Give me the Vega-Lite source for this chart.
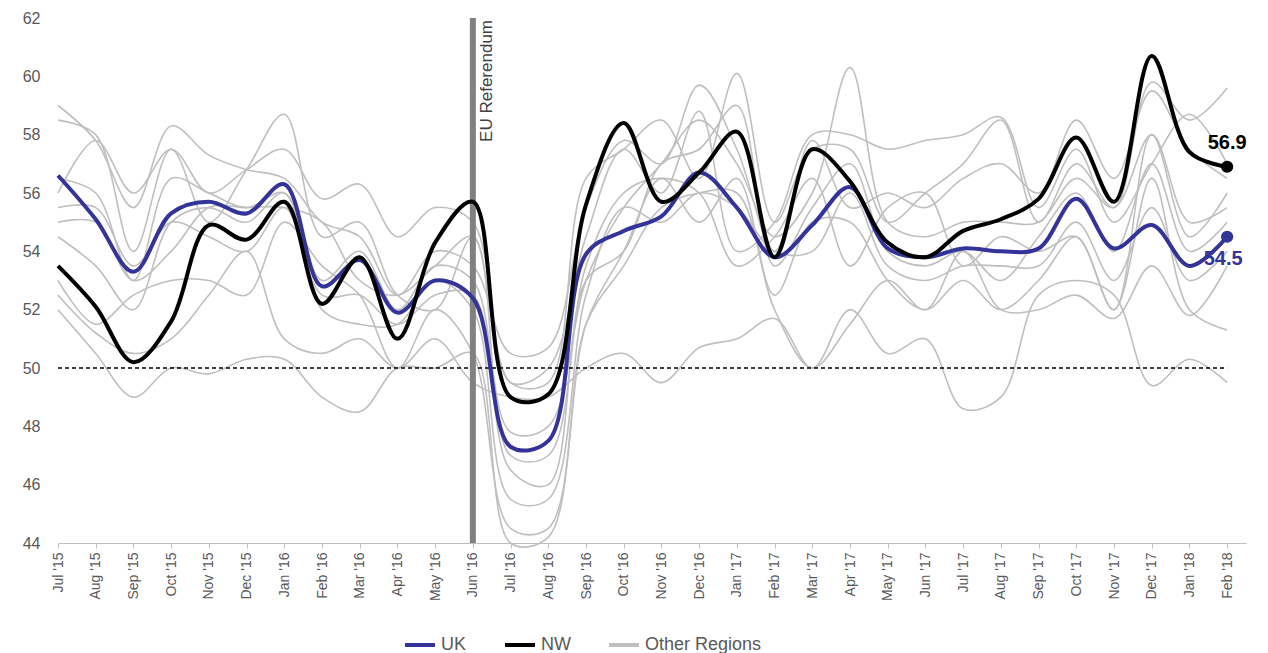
{
  "$schema": "https://vega.github.io/schema/vega-lite/v6.json",
  "width": 1268,
  "height": 653,
  "autosize": {"type": "fit", "contains": "padding"},
  "padding": {"left": 22, "top": 10, "right": 22, "bottom": 52},
  "config": {"view": {"stroke": null}, "font": "Liberation Sans"},
  "data": {
    "values": [
      {"m": 0, "UK": 56.6, "NW": 53.5, "r1": 59.0, "r2": 58.5, "r3": 56.5, "r4": 55.5, "r5": 54.5, "r6": 53.0, "r7": 52.5, "r8": 52.0, "r9": 56.0, "r10": 55.0},
      {"m": 1, "UK": 55.1, "NW": 52.1, "r1": 57.8, "r2": 58.0, "r3": 56.0, "r4": 55.5, "r5": 53.5, "r6": 51.5, "r7": 51.2, "r8": 50.5, "r9": 57.8, "r10": 55.0},
      {"m": 2, "UK": 53.3, "NW": 50.2, "r1": 55.5, "r2": 54.0, "r3": 53.0, "r4": 53.5, "r5": 52.0, "r6": 52.5, "r7": 50.5, "r8": 49.0, "r9": 56.0, "r10": 53.0},
      {"m": 3, "UK": 55.3, "NW": 51.6, "r1": 58.3, "r2": 57.5, "r3": 56.5, "r4": 55.0, "r5": 55.0, "r6": 53.0, "r7": 51.0, "r8": 50.0, "r9": 57.5, "r10": 54.0},
      {"m": 4, "UK": 55.7, "NW": 54.9, "r1": 57.3, "r2": 55.0, "r3": 56.0, "r4": 54.5, "r5": 55.5, "r6": 53.0, "r7": 52.5, "r8": 49.8, "r9": 56.0, "r10": 55.5},
      {"m": 5, "UK": 55.3, "NW": 54.4, "r1": 56.8, "r2": 56.8, "r3": 55.5, "r4": 54.0, "r5": 55.0, "r6": 52.5, "r7": 54.0, "r8": 50.3, "r9": 56.8, "r10": 55.5},
      {"m": 6, "UK": 56.3, "NW": 55.7, "r1": 56.5, "r2": 58.7, "r3": 56.0, "r4": 55.5, "r5": 56.0, "r6": 55.0, "r7": 51.0, "r8": 50.3, "r9": 57.5, "r10": 55.5},
      {"m": 7, "UK": 52.8, "NW": 52.2, "r1": 55.0, "r2": 54.5, "r3": 53.0, "r4": 52.5, "r5": 52.0, "r6": 53.5, "r7": 50.5, "r8": 49.0, "r9": 55.8, "r10": 55.0},
      {"m": 8, "UK": 53.7, "NW": 53.8, "r1": 54.5, "r2": 55.0, "r3": 54.0, "r4": 52.5, "r5": 51.5, "r6": 52.5, "r7": 51.0, "r8": 48.5, "r9": 56.3, "r10": 53.0},
      {"m": 9, "UK": 51.9, "NW": 51.0, "r1": 52.5, "r2": 52.5, "r3": 52.0, "r4": 51.5, "r5": 51.5, "r6": 50.0, "r7": 50.0, "r8": 50.0, "r9": 54.5, "r10": 52.5},
      {"m": 10, "UK": 53.0, "NW": 54.3, "r1": 54.0, "r2": 52.0, "r3": 53.5, "r4": 52.5, "r5": 53.0, "r6": 52.0, "r7": 51.0, "r8": 50.0, "r9": 55.5, "r10": 53.5},
      {"m": 11, "UK": 52.4, "NW": 55.7, "r1": 53.5, "r2": 54.5, "r3": 53.0, "r4": 52.5, "r5": 52.0, "r6": 50.5, "r7": 49.5, "r8": 50.5, "r9": 55.0, "r10": 54.5},
      {"m": 12, "UK": 47.3, "NW": 49.0, "r1": 50.5, "r2": 49.5, "r3": 47.8, "r4": 46.5, "r5": 45.5, "r6": 44.5, "r7": 49.0, "r8": 44.0, "r9": 49.5, "r10": 47.0},
      {"m": 13, "UK": 47.5, "NW": 49.1, "r1": 50.7, "r2": 49.5, "r3": 48.0, "r4": 46.0, "r5": 45.5, "r6": 44.5, "r7": 49.0, "r8": 44.2, "r9": 50.0, "r10": 47.0},
      {"m": 14, "UK": 53.9, "NW": 55.6, "r1": 55.5, "r2": 56.5, "r3": 53.0, "r4": 53.0, "r5": 52.5, "r6": 51.5, "r7": 50.0, "r8": 51.5, "r9": 54.5, "r10": 53.5},
      {"m": 15, "UK": 54.7, "NW": 58.4, "r1": 57.8, "r2": 57.5, "r3": 55.5, "r4": 54.0, "r5": 55.5, "r6": 54.0, "r7": 50.5, "r8": 53.5, "r9": 57.5, "r10": 56.0},
      {"m": 16, "UK": 55.2, "NW": 55.7, "r1": 57.0, "r2": 58.5, "r3": 57.0, "r4": 57.0, "r5": 55.0, "r6": 56.5, "r7": 49.5, "r8": 55.5, "r9": 56.0, "r10": 56.5},
      {"m": 17, "UK": 56.7, "NW": 56.7, "r1": 59.7, "r2": 56.5, "r3": 58.5, "r4": 57.5, "r5": 56.0, "r6": 55.0, "r7": 50.7, "r8": 56.0, "r9": 58.8, "r10": 56.0},
      {"m": 18, "UK": 55.5, "NW": 58.1, "r1": 57.5, "r2": 60.1, "r3": 57.0, "r4": 59.0, "r5": 55.5, "r6": 56.5, "r7": 51.0, "r8": 56.0, "r9": 54.0, "r10": 53.5},
      {"m": 19, "UK": 53.8, "NW": 53.8, "r1": 54.0, "r2": 55.0, "r3": 54.5, "r4": 53.5, "r5": 54.0, "r6": 52.5, "r7": 51.7, "r8": 52.0, "r9": 55.0, "r10": 54.5},
      {"m": 20, "UK": 54.9, "NW": 57.5, "r1": 57.8, "r2": 57.5, "r3": 56.0, "r4": 55.5, "r5": 54.0, "r6": 55.0, "r7": 50.0, "r8": 50.0, "r9": 58.0, "r10": 56.5},
      {"m": 21, "UK": 56.2, "NW": 56.4, "r1": 55.5, "r2": 57.5, "r3": 60.3, "r4": 57.0, "r5": 56.0, "r6": 55.0, "r7": 52.0, "r8": 51.5, "r9": 58.0, "r10": 53.5},
      {"m": 22, "UK": 54.1, "NW": 54.3, "r1": 56.0, "r2": 55.0, "r3": 55.0, "r4": 54.0, "r5": 53.5, "r6": 53.0, "r7": 50.5, "r8": 53.0, "r9": 57.5, "r10": 55.5},
      {"m": 23, "UK": 53.8, "NW": 53.8, "r1": 55.5, "r2": 56.0, "r3": 54.5, "r4": 53.5, "r5": 53.0, "r6": 52.0, "r7": 51.0, "r8": 52.0, "r9": 57.8, "r10": 56.0},
      {"m": 24, "UK": 54.1, "NW": 54.7, "r1": 56.5, "r2": 57.0, "r3": 55.0, "r4": 54.0, "r5": 53.5, "r6": 53.0, "r7": 48.6, "r8": 54.0, "r9": 58.0, "r10": 53.5},
      {"m": 25, "UK": 54.0, "NW": 55.1, "r1": 57.0, "r2": 58.5, "r3": 55.0, "r4": 53.0, "r5": 53.5, "r6": 52.0, "r7": 49.0, "r8": 52.0, "r9": 58.6, "r10": 54.5},
      {"m": 26, "UK": 54.1, "NW": 55.8, "r1": 56.0, "r2": 55.0, "r3": 55.0, "r4": 54.5, "r5": 53.5, "r6": 53.0, "r7": 52.5, "r8": 52.0, "r9": 55.5, "r10": 54.0},
      {"m": 27, "UK": 55.8, "NW": 57.9, "r1": 58.5, "r2": 57.0, "r3": 56.5, "r4": 56.0, "r5": 55.0, "r6": 54.5, "r7": 53.0, "r8": 52.5, "r9": 57.5, "r10": 54.5},
      {"m": 28, "UK": 54.1, "NW": 55.7, "r1": 56.5, "r2": 55.5, "r3": 55.5, "r4": 54.0, "r5": 53.0, "r6": 52.0, "r7": 52.5, "r8": 51.7, "r9": 55.0, "r10": 52.0},
      {"m": 29, "UK": 54.9, "NW": 60.7, "r1": 59.5, "r2": 59.8, "r3": 58.0, "r4": 57.0, "r5": 55.5, "r6": 56.5, "r7": 49.4, "r8": 53.5, "r9": 57.0, "r10": 58.0},
      {"m": 30, "UK": 53.5, "NW": 57.4, "r1": 57.5, "r2": 58.5, "r3": 55.0, "r4": 54.0, "r5": 53.0, "r6": 52.0, "r7": 50.3, "r8": 51.8, "r9": 58.7, "r10": 54.5},
      {"m": 31, "UK": 54.5, "NW": 56.9, "r1": 56.5, "r2": 59.6, "r3": 55.5, "r4": 55.0, "r5": 54.0, "r6": 51.3, "r7": 49.5, "r8": 53.5, "r9": 57.0, "r10": 56.0}
    ]
  },
  "encoding": {
    "x": {
      "field": "m",
      "type": "quantitative",
      "scale": {"domain": [0, 31.5], "nice": false, "zero": false},
      "axis": {
        "title": null,
        "grid": false,
        "values": [0,1,2,3,4,5,6,7,8,9,10,11,12,13,14,15,16,17,18,19,20,21,22,23,24,25,26,27,28,29,30,31],
        "labelExpr": "['Jul \\'15','Aug \\'15','Sep \\'15','Oct \\'15','Nov \\'15','Dec \\'15','Jan \\'16','Feb \\'16','Mar \\'16','Apr \\'16','May \\'16','Jun \\'16','Jul \\'16','Aug \\'16','Sep \\'16','Oct \\'16','Nov \\'16','Dec \\'16','Jan \\'17','Feb \\'17','Mar \\'17','Apr \\'17','May \\'17','Jun \\'17','Jul \\'17','Aug \\'17','Sep \\'17','Oct \\'17','Nov \\'17','Dec \\'17','Jan \\'18','Feb \\'18'][datum.value]",
        "labelAngle": -90,
        "labelAlign": "right",
        "labelBaseline": "middle",
        "labelFontSize": 14,
        "labelColor": "#595959",
        "domainColor": "#bfbfbf",
        "tickColor": "#bfbfbf",
        "labelPadding": 4
      }
    }
  },
  "layer": [
    {
      "transform": [{"fold": ["r1","r2","r3","r4","r5","r6","r7","r8","r9","r10"], "as": ["region", "val"]}],
      "mark": {"type": "line", "interpolate": "catmull-rom", "strokeWidth": 1.6},
      "encoding": {
        "y": {
          "field": "val",
          "type": "quantitative",
          "scale": {"domain": [44, 62], "nice": false, "zero": false},
          "axis": {"title": null, "grid": false, "values": [44,46,48,50,52,54,56,58,60,62], "domain": false, "ticks": false, "labelFontSize": 16, "labelColor": "#595959", "labelPadding": 18}
        },
        "detail": {"field": "region"},
        "color": {
          "datum": "Other Regions",
          "scale": {"domain": ["UK", "NW", "Other Regions"], "range": ["#333399", "#000000", "#bfbfbf"]},
          "legend": {
            "title": null,
            "orient": "none",
            "legendX": 345,
            "legendY": 610,
            "direction": "horizontal",
            "symbolType": "stroke",
            "symbolStrokeWidth": 4,
            "symbolSize": 900,
            "labelFontSize": 18,
            "labelColor": "#595959",
            "columnPadding": 30
          }
        }
      }
    },
    {
      "transform": [{"filter": "datum.m == 0"}],
      "mark": {"type": "rule", "color": "black", "strokeDash": [4, 3], "strokeWidth": 1.5},
      "encoding": {"y": {"datum": 50}, "x": {"datum": 0}, "x2": {"datum": 31}}
    },
    {
      "transform": [{"filter": "datum.m == 0"}],
      "mark": {"type": "rule", "color": "#808080", "strokeWidth": 6},
      "encoding": {"x": {"datum": 11}}
    },
    {
      "transform": [{"filter": "datum.m == 0"}],
      "mark": {"type": "text", "angle": -90, "align": "right", "baseline": "top", "dx": -2, "dy": 6, "fontSize": 17},
      "encoding": {"x": {"datum": 11}, "y": {"datum": 62}, "text": {"value": "EU Referendum"}, "color": {"value": "#404040"}}
    },
    {
      "mark": {"type": "line", "interpolate": "catmull-rom", "strokeWidth": 4},
      "encoding": {"y": {"field": "UK", "type": "quantitative"}, "color": {"datum": "UK"}}
    },
    {
      "mark": {"type": "line", "interpolate": "catmull-rom", "strokeWidth": 4},
      "encoding": {"y": {"field": "NW", "type": "quantitative"}, "color": {"datum": "NW"}}
    },
    {
      "transform": [{"filter": "datum.m == 31"}],
      "mark": {"type": "point", "filled": true, "size": 150, "opacity": 1},
      "encoding": {"y": {"field": "UK", "type": "quantitative"}, "color": {"value": "#333399"}}
    },
    {
      "transform": [{"filter": "datum.m == 31"}],
      "mark": {"type": "point", "filled": true, "size": 150, "opacity": 1},
      "encoding": {"y": {"field": "NW", "type": "quantitative"}, "color": {"value": "black"}}
    },
    {
      "transform": [{"filter": "datum.m == 31"}],
      "mark": {"type": "text", "fontSize": 20, "fontWeight": "bold", "dy": 22, "dx": -4},
      "encoding": {"y": {"field": "UK", "type": "quantitative"}, "text": {"field": "UK", "format": ".1f"}, "color": {"value": "#333399"}}
    },
    {
      "transform": [{"filter": "datum.m == 31"}],
      "mark": {"type": "text", "fontSize": 20, "fontWeight": "bold", "dy": -24},
      "encoding": {"y": {"field": "NW", "type": "quantitative"}, "text": {"field": "NW", "format": ".1f"}, "color": {"value": "black"}}
    }
  ]
}
